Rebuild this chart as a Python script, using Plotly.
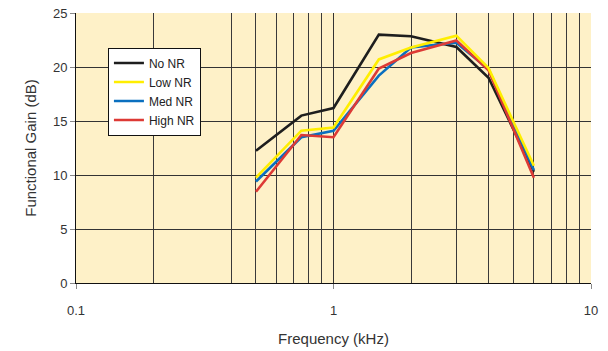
import plotly.graph_objects as go

freq = [0.5, 0.75, 1, 1.5, 2, 3, 4, 6]
no_nr = [12.25, 15.5, 16.2, 23.0, 22.85, 21.85, 19.0, 10.3]
low_nr = [9.75, 14.1, 14.4, 20.7, 21.8, 22.9, 19.9, 10.85]
med_nr = [9.4, 13.5, 14.1, 19.2, 21.8, 22.25, 19.8, 10.45]
high_nr = [8.45, 13.7, 13.5, 19.85, 21.3, 22.45, 19.7, 9.75]

x_major = [0.1, 1, 10]
x_major_text = ["0.1", "1", "10"]
x_minor = [0.2, 0.4, 0.5, 0.6, 0.7, 0.8, 0.9, 2, 3, 4, 5, 6, 7, 8, 9]
y_ticks = [0, 5, 10, 15, 20, 25]

series = [
    ("No NR", no_nr, "#1e1e1e", 1),
    ("Low NR", low_nr, "#ffee00", 2),
    ("Med NR", med_nr, "#0a6fbf", 3),
    ("High NR", high_nr, "#dd3a35", 4),
]
draw_order = [0, 2, 3, 1]

fig = go.Figure()
for i in draw_order:
    name, vals, color, rank = series[i]
    fig.add_trace(go.Scatter(
        x=freq, y=vals, mode="lines", name=name,
        line=dict(color=color, width=2.6),
        legendrank=rank,
    ))

font_family = "Liberation Sans, Arial, sans-serif"
fig.update_layout(
    width=608, height=351,
    margin=dict(l=76, r=17, t=13, b=68, autoexpand=False),
    paper_bgcolor="white",
    plot_bgcolor="#fef1c8",
    font=dict(family=font_family, size=13, color="#333333"),
    showlegend=True,
    legend=dict(
        x=0.062, y=0.872, xanchor="left", yanchor="top",
        bgcolor="white", bordercolor="#111111", borderwidth=1,
        font=dict(size=12, color="#222222"),
        tracegroupgap=0, itemwidth=30,
    ),
    xaxis=dict(
        type="log", range=[-1, 1], automargin=False,
        tickmode="array", tickvals=x_major, ticktext=x_major_text,
        ticks="outside", ticklen=5, tickcolor="#888888",
        ticklabelstandoff=10,
        showgrid=True, gridcolor="#333333", gridwidth=1,
        minor=dict(tickmode="array", tickvals=x_minor, showgrid=True,
                   gridcolor="#3a3a3a", gridwidth=1, ticks=""),
        showline=True, linecolor="#111111", linewidth=1, mirror=False,
        zeroline=False,
        title=dict(text="Frequency (kHz)", font=dict(size=15, color="#333333"), standoff=16),
    ),
    yaxis=dict(
        range=[0, 25], automargin=False,
        tickmode="array", tickvals=y_ticks,
        ticks="outside", ticklen=5, tickcolor="#888888",
        showgrid=True, gridcolor="#333333", gridwidth=1,
        showline=True, linecolor="#111111", linewidth=1,
        zeroline=False,
        title=dict(text="Functional Gain (dB)", font=dict(size=15, color="#333333"), standoff=12),
    ),
)

fig.write_html("out.html", config={"displayModeBar": False},
               post_script="document.body.style.margin='0';")
